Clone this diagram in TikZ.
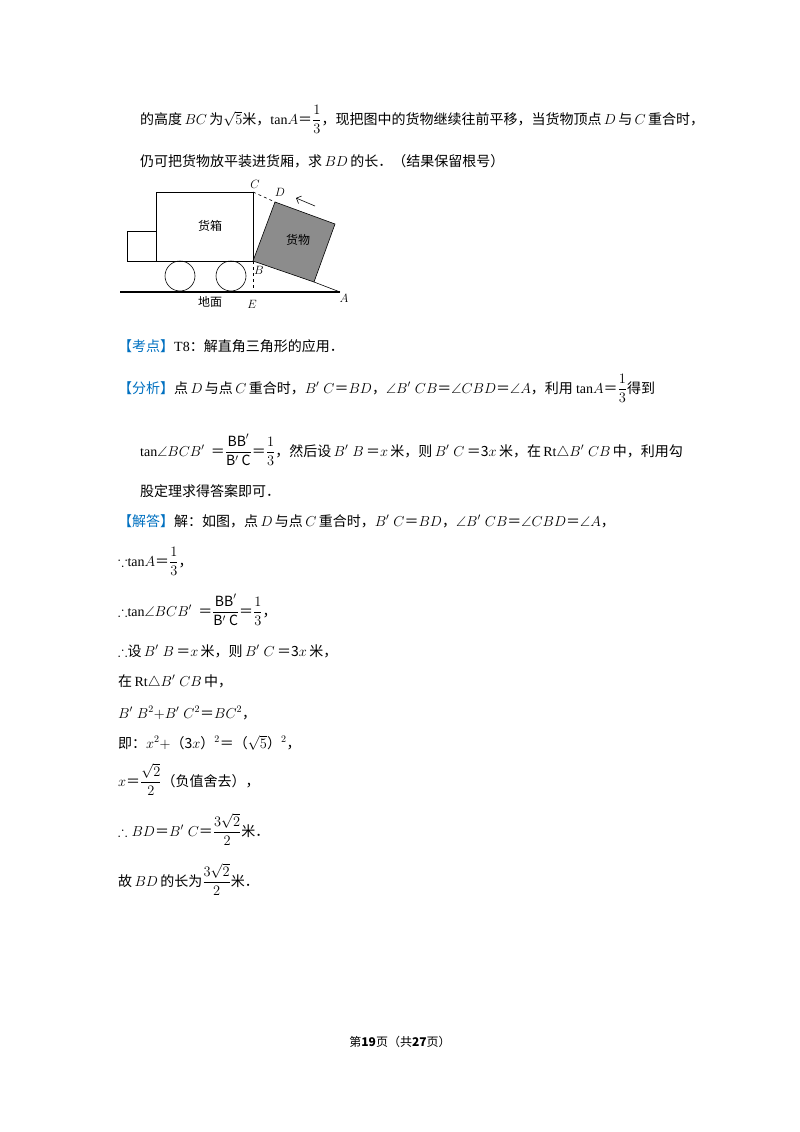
\documentclass[tikz,border=0pt]{standalone}
\usepackage{amsmath,amssymb}
\usepackage{fontspec}
\setmainfont{Noto Sans CJK SC}
\newfontfamily\lat{Liberation Serif}
\usetikzlibrary{arrows.meta}
\definecolor{kblue}{RGB}{0,112,192}
\definecolor{cargo}{RGB}{140,140,140}
\tikzset{ln/.style={anchor=base west,inner sep=0pt,font=\fontsize{14}{17}\selectfont},
lbl/.style={inner sep=0pt,font=\fontsize{12}{14}\selectfont},
ptl/.style={inner sep=0pt,font=\fontsize{13}{14}\selectfont}}
\newcommand{\kb}[1]{{\color{kblue}【#1】}}
\newcommand{\eqz}{＝}
\newcommand{\m}[1]{\,$#1$\,}
\begin{document}
\begin{tikzpicture}[x=1pt,y=-1pt]
\useasboundingbox (0,0) rectangle (800,1132);
% text
\node[ln] (l1) at (140,124) {的高度\m{BC}为$\sqrt{5}$米，{\lat tan}$A$\eqz$\dfrac{1}{3}$，现把图中的货物继续往前平移，当货物顶点\m{D}与\m{C}重合时，};
\node[ln] (l2) at (140,166) {仍可把货物放平装进货厢，求\m{BD}的长．（结果保留根号）};
% diagram
\draw[line width=0.6pt] (156,192) rectangle (253,261);
\draw[line width=0.6pt] (127,231) rectangle (156,261);
\draw[line width=0.6pt] (180,276) circle (15);
\draw[line width=0.6pt] (231,276) circle (15);
\draw[line width=1.4pt] (120,292) -- (340,292);
\coordinate (C) at (253,192);
\coordinate (B) at (253,261);
\coordinate (E) at (253,292);
\coordinate (A) at (340,292);
\coordinate (D) at (275,202);
\coordinate (P) at (335,224);
\coordinate (Q) at (314,282);
\fill[cargo,draw=black,line width=0.6pt] (B) -- (D) -- (P) -- (Q) -- cycle;
\draw[line width=0.6pt] (Q) -- (A);
\draw[dashed,line width=0.6pt] (C) -- (D);
\draw[dashed,line width=0.6pt] (B) -- (E);
\coordinate (ar1) at (315,206);
\coordinate (ar2) at (296,198);
\draw[-{Straight Barb[length=4pt]},line width=0.6pt] (ar1) -- (ar2);
\node[ptl] (tC) at (255,184) {$C$};
\node[ptl] (tD) at (280,192) {$D$};
\node[ptl] (tB) at (259,270) {$B$};
\node[ptl] (tE) at (252,304) {$E$};
\node[ptl] (tA) at (344,298) {$A$};
\node[lbl] (t1) at (210,226) {货箱};
\node[lbl] (t2) at (298,240) {货物};
\node[lbl] (t3) at (210,302) {地面};
% solution
\node[ln] (k1) at (118,351) {\kb{考点}{\lat T8}：解直角三角形的应用．};
\node[ln] (k2) at (118,393) {\kb{分析}点\m{D}与点\m{C}重合时，$B'\;C$\eqz$BD$，$\angle B'\;CB$\eqz$\angle CBD$\eqz$\angle A$，利用 {\lat tan}$A$\eqz$\dfrac{1}{3}$得到};
\node[ln] (k3) at (140,456) {{\lat tan}$\angle BCB'$\ \ \eqz$\dfrac{\mathrm{BB}'}{\mathrm{B}'\ \mathrm{C}}$\eqz$\dfrac{1}{3}$，然后设\m{B'\;B}\eqz$x$\,米，则\m{B'\;C}\eqz3$x$\,米，在\,{\lat Rt}$\triangle B'\;CB$\,中，利用勾};
\node[ln] (k4) at (140,496) {股定理求得答案即可．};
\node[ln] (k5) at (118,526) {\kb{解答}解：如图，点\m{D}与点\m{C}重合时，$B'\;C$\eqz$BD$，$\angle B'\;CB$\eqz$\angle CBD$\eqz$\angle A$，};
\node[ln] (k6) at (118,566) {$\because${\lat tan}$A$\eqz$\dfrac{1}{3}$，};
\node[ln] (k7) at (118,616) {$\therefore${\lat tan}$\angle BCB'$\ \ \eqz$\dfrac{\mathrm{BB}'}{\mathrm{B}'\ \mathrm{C}}$\eqz$\dfrac{1}{3}$，};
\node[ln] (k8) at (118,656) {$\therefore$设\m{B'\;B}\eqz$x$\,米，则\m{B'\;C}\eqz3$x$\,米，};
\node[ln] (k9) at (118,686) {在\,{\lat Rt}$\triangle B'\;CB$\,中，};
\node[ln] (k10) at (118,718) {$B'\;B^2{+}B'\;C^2$\eqz$BC^2$，};
\node[ln] (k11) at (118,748) {即：$x^2{+}$（3$x$）$^2$\eqz（$\sqrt{5}$）$^2$，};
\node[ln] (k12) at (118,786) {$x$\eqz$\dfrac{\sqrt{2}}{2}$（负值舍去），};
\node[ln] (k13) at (118,836) {$\therefore BD$\eqz$B'\;C$\eqz$\dfrac{3\sqrt{2}}{2}$米．};
\node[ln] (k14) at (118,886) {故\m{BD}的长为$\dfrac{3\sqrt{2}}{2}$米．};
\node[anchor=base,inner sep=0pt,font=\fontsize{12}{14}\selectfont] (ft) at (400,1046) {第\textbf{19}页（共\textbf{27}页）};
\end{tikzpicture}
\end{document}
